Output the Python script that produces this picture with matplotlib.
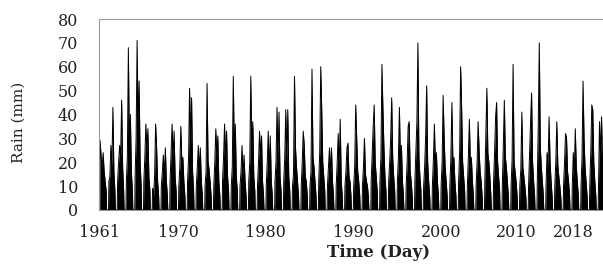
import matplotlib.pyplot as plt
import matplotlib.transforms as mtransforms

# daily rain, read per wet season (mm), one list per year
rain_1960s = [
    [29, 22, 18, 24, 16, 12, 8],
    [12, 14, 27, 18, 43, 16, 8],
    [12, 20, 27, 22, 46, 18, 8],
    [12, 22, 68, 26, 40, 16, 8],
    [14, 30, 71, 36, 54, 20, 10],
    [12, 22, 36, 24, 34, 14, 8],
    [9, 6, 14, 36, 26, 12, 6],
    [10, 16, 23, 14, 26, 12, 6],
    [12, 24, 36, 22, 33, 14, 8],
]
rain_1970s = [
    [10, 18, 35, 20, 22, 12, 6],
    [12, 22, 51, 28, 47, 16, 8],
    [10, 18, 27, 16, 26, 12, 6],
    [10, 16, 53, 20, 17, 12, 6],
    [10, 20, 34, 22, 31, 12, 6],
    [12, 22, 36, 20, 33, 14, 8],
    [10, 18, 56, 24, 36, 14, 8],
    [10, 16, 27, 14, 23, 12, 6],
    [12, 20, 56, 26, 37, 14, 8],
    [10, 20, 33, 22, 31, 12, 6],
]
rain_1980s = [
    [10, 20, 33, 16, 31, 12, 6],
    [12, 20, 43, 22, 41, 14, 8],
    [12, 22, 42, 20, 42, 14, 8],
    [10, 15, 56, 26, 18, 12, 6],
    [10, 20, 33, 27, 14, 12, 6],
    [10, 16, 59, 22, 18, 12, 6],
    [12, 24, 60, 42, 20, 14, 8],
    [10, 18, 26, 14, 26, 12, 6],
    [10, 20, 32, 18, 38, 12, 6],
    [10, 16, 26, 28, 14, 12, 6],
]
rain_1990s = [
    [10, 18, 44, 30, 16, 12, 6],
    [10, 18, 30, 15, 12, 10, 5],
    [12, 24, 35, 44, 20, 14, 8],
    [12, 22, 61, 42, 26, 14, 8],
    [12, 20, 30, 47, 22, 14, 8],
    [12, 22, 43, 20, 27, 12, 6],
    [10, 20, 35, 37, 16, 12, 6],
    [12, 24, 37, 70, 22, 14, 8],
    [10, 18, 31, 52, 20, 12, 6],
    [10, 21, 36, 18, 24, 12, 6],
]
rain_2000s = [
    [10, 20, 48, 30, 18, 12, 6],
    [10, 22, 45, 20, 22, 12, 6],
    [12, 24, 60, 43, 20, 14, 8],
    [10, 22, 38, 18, 22, 12, 6],
    [10, 20, 37, 25, 16, 12, 6],
    [12, 31, 51, 24, 20, 14, 6],
    [12, 24, 39, 45, 20, 14, 8],
    [10, 27, 46, 22, 18, 12, 6],
    [10, 21, 61, 20, 16, 12, 6],
    [10, 17, 41, 18, 14, 10, 5],
]
rain_2010s = [
    [10, 24, 37, 49, 20, 12, 6],
    [12, 37, 70, 26, 18, 12, 6],
    [10, 24, 18, 39, 20, 12, 6],
    [10, 20, 37, 19, 14, 10, 5],
    [10, 20, 32, 30, 16, 12, 6],
    [10, 24, 16, 34, 18, 12, 6],
    [10, 22, 54, 30, 18, 12, 6],
    [10, 24, 44, 42, 20, 12, 6],
    [10, 37, 22, 39, 20, 12, 6],
]

first_year = 1961
tick_years = [1961, 1970, 1980, 1990, 2000, 2010, 2018]

seasons = rain_1960s + rain_1970s + rain_1980s + rain_1990s + rain_2000s + rain_2010s

# time axis: each wet season spread over most of its year, dry gap after
t, rain = [], []
for i, season in enumerate(seasons):
    yr = first_year + i
    t.append(yr)
    rain.append(0)
    for j, v in enumerate(season):
        t.append(yr + 0.04 + j * 0.115)
        rain.append(v)
    t.append(yr + 0.78)
    rain.append(0)

fig = plt.figure(figsize=(6.03, 2.64), dpi=100)
ax = fig.add_axes([0.164, 0.205, 0.841, 0.723])

ax.fill_between(t, rain, color='black', linewidth=0)
ax.plot(t, rain, color='black', linewidth=0.7)

ax.set_xlim(1960.9, 2018.9)
ax.set_ylim(0, 80)
ax.set_yticks(range(0, 81, 10))
ax.set_xticks(tick_years)
ax.set_xticklabels([str(y) for y in tick_years])

for s in ax.spines.values():
    s.set_color('#999999')
    s.set_linewidth(0.8)

ax.tick_params(axis='both', length=0, labelsize=11.5, colors='#222222')
ax.tick_params(axis='y', pad=15)
ax.tick_params(axis='x', pad=10)
for lab in ax.get_xticklabels() + ax.get_yticklabels():
    lab.set_family('DejaVu Serif')

# last two year labels sit a bit to the left in the original
labs = ax.get_xticklabels()
for lab, dx in [(labs[-2], -12), (labs[-1], -25)]:
    off = mtransforms.ScaledTranslation(dx / 100, 0, fig.dpi_scale_trans)
    lab.set_transform(lab.get_transform() + off)

ax.set_ylabel('Rain (mm)', family='DejaVu Serif', fontsize=11, color='#222222')
ax.yaxis.set_label_coords(-0.145, 0.46)
ax.set_xlabel('Time (Day)', family='DejaVu Serif', fontsize=12,
              fontweight='bold', color='#222222')
ax.xaxis.set_label_coords(0.552, -0.18)

fig.savefig('out.png', dpi=100)
